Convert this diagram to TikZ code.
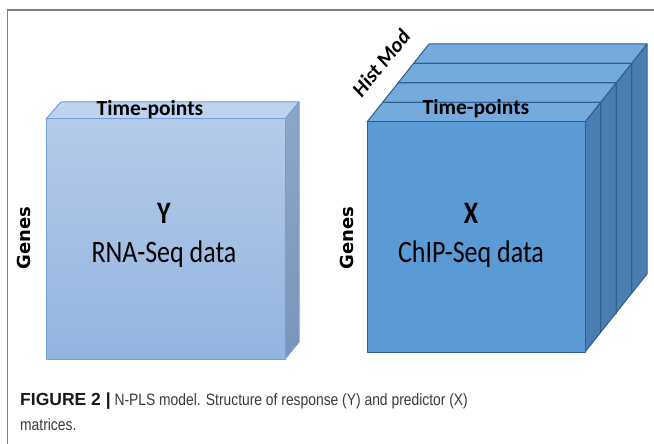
\documentclass[tikz,border=0pt]{standalone}
\usepackage{fontspec}
\usepackage{graphicx}
\setmainfont{Carlito}
\newfontfamily\capfont[FakeStretch=0.84]{Liberation Sans}
\newfontfamily\capbold{Liberation Sans}
\newfontfamily\genesfont{DejaVu Sans}
\definecolor{frameg}{HTML}{7F7F7F}
\definecolor{yfrontA}{HTML}{B5CBE9}
\definecolor{yfrontB}{HTML}{93B4E0}
\definecolor{ytopc}{HTML}{BED3EE}
\definecolor{ysideA}{HTML}{8EA6C6}
\definecolor{ysideB}{HTML}{7A95BC}
\definecolor{ybd}{HTML}{6FA0DC}
\definecolor{xfront}{HTML}{5B9BD5}
\definecolor{xtopc}{HTML}{75AADC}
\definecolor{xside}{HTML}{4A7DB2}
\definecolor{xbd}{HTML}{2F5E8C}
\definecolor{captxt}{HTML}{3A3A3A}
\newcommand{\talltext}[1]{\scalebox{1}[1.2]{#1}}
\begin{document}
\begin{tikzpicture}[x=1pt,y=-1pt,
  yedge/.style={draw=ybd, line width=1pt, line join=round},
  xedge/.style={draw=xbd, line width=1pt, line join=round},
  tplabel/.style={font=\fontsize{21.5}{23}\selectfont\bfseries, inner sep=0pt},
  biglet/.style={font=\fontsize{26}{28}\selectfont\bfseries, inner sep=0pt},
  datalabel/.style={font=\fontsize{26}{28}\selectfont, inner sep=0pt},
  geneslabel/.style={font=\genesfont\fontsize{18}{20}\selectfont\bfseries, rotate=90, inner sep=0pt},
  caplabel/.style={font=\capfont\fontsize{16.5}{25}\selectfont, text=captxt, anchor=base west, inner sep=0pt}]
\useasboundingbox (0,0) rectangle (654,444);
% frame
\draw[frameg, line width=1.7pt] (7.5,450) -- (7.5,10) -- (660,10);
% ---- Y box ----
\shade[top color=ysideA, bottom color=ysideB] (285,119) -- (299,102) -- (299,342) -- (285,359) -- cycle;
\draw[yedge] (285,119) -- (299,102) -- (299,342) -- (285,359) -- cycle;
\fill[ytopc] (46,119) -- (61,102) -- (299,102) -- (285,119) -- cycle;
\draw[yedge] (46,119) -- (61,102) -- (299,102) -- (285,119) -- cycle;
\shade[top color=yfrontA, bottom color=yfrontB] (46,119) rectangle (285,359);
\draw[yedge] (46,119) rectangle (285,359);
\node[tplabel] (ytp) at (150,110) {Time-points};
\node[biglet] (ylet) at (164,213) {\talltext{Y}};
\node[datalabel] (ydata) at (164,254) {\talltext{RNA-Seq data}};
\node[geneslabel] (ygenes) at (24,238) {Genes};
% ---- X stack ----
\foreach \k in {3,2,1,0}{
  \begin{scope}[shift={(15.5*\k,-19.5*\k)}]
    \fill[xside] (585,122) -- (600.5,102.5) -- (600.5,332.5) -- (585,352) -- cycle;
    \draw[xedge] (585,122) -- (600.5,102.5) -- (600.5,332.5) -- (585,352) -- cycle;
    \fill[xtopc] (367,122) -- (382.5,102.5) -- (600.5,102.5) -- (585,122) -- cycle;
    \draw[xedge] (367,122) -- (382.5,102.5) -- (600.5,102.5) -- (585,122) -- cycle;
    \fill[xfront] (367,122) rectangle (585,352);
    \draw[xedge] (367,122) rectangle (585,352);
  \end{scope}
}
\node[tplabel] (xtp) at (476,109) {Time-points};
\node[biglet] (xlet) at (471,213) {\talltext{X}};
\node[datalabel] (xdata) at (471,254) {\talltext{ChIP-Seq data}};
\node[geneslabel] (xgenes) at (347,238) {Genes};
\node[font=\fontsize{21}{23}\selectfont\bfseries\itshape, rotate=51, inner sep=0pt] (hist) at (381,63) {Hist Mod};
% ---- caption ----
\node[caplabel] (cap1) at (20,405) {{\capbold\fontsize{17.5}{25}\selectfont\bfseries\color{black!90}FIGURE 2 |} N-PLS model. Structure of response (Y) and predictor (X)};
\node[caplabel] (cap2) at (20,430) {matrices.};
\end{tikzpicture}
\end{document}
